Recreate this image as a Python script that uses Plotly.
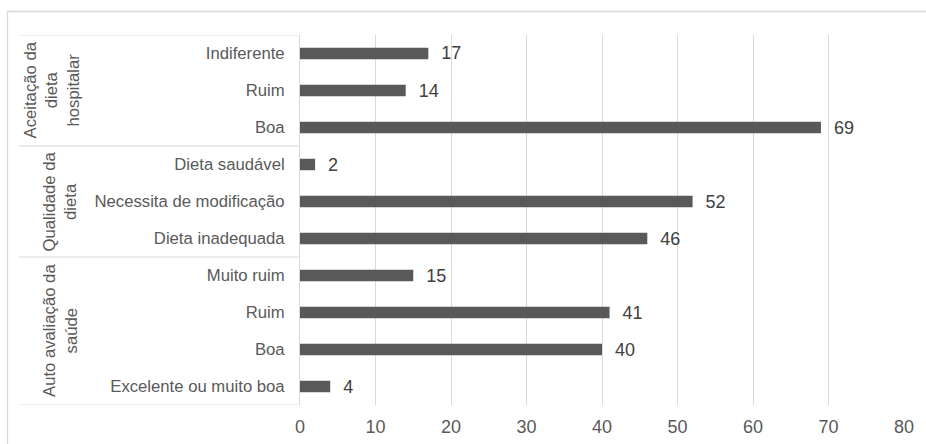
import plotly.graph_objects as go

# Data (bottom to top)
categories = ["Excelente ou muito boa", "Boa", "Ruim", "Muito ruim",
              "Dieta inadequada", "Necessita de modificação", "Dieta saudável",
              "Boa", "Ruim", "Indiferente"]
values = [4, 40, 41, 15, 46, 52, 2, 69, 14, 17]
groups = ["Auto avaliação da<br>saúde", "Qualidade da<br>dieta", "Aceitação da<br>dieta<br>hospitalar"]
group_sizes = [4, 3, 3]
x_ticks = [0, 10, 20, 30, 40, 50, 60, 70, 80]

positions = list(range(len(categories)))

FONT = "Liberation Sans, Arial, sans-serif"
GRID = "#d9d9d9"

fig = go.Figure()
fig.add_trace(go.Bar(
    x=values, y=positions, orientation="h",
    marker=dict(color="#595959", line=dict(width=0)),
    text=values, texttemplate="\u00a0\u00a0%{x}", textposition="outside",
    textfont=dict(family=FONT, size=18, color="#404040"),
    constraintext="none",
    cliponaxis=False, hoverinfo="skip",
))

W, H = 926, 444
L, R, T, B = 300, 22, 35, 39
pw = W - L - R
ph = H - T - B

def px2paper_x(px):
    return (px - L) / pw

def px2paper_y(py):
    return (H - B - py) / ph

shapes = []
annotations = []
start = -0.5
group_x_px = {2: 60, 3: 51}
for g, n in zip(groups, group_sizes):
    end = start + n
    shapes.append(dict(type="line", xref="paper", yref="y",
                       x0=px2paper_x(19), x1=0, y0=start, y1=start,
                       line=dict(color=GRID, width=1)))
    nlines = g.count("<br>") + 1
    annotations.append(dict(text=g, xref="paper", yref="y",
                            x=px2paper_x(group_x_px.get(nlines, 55)), y=(start + end) / 2,
                            textangle=-90, showarrow=False,
                            xanchor="center", yanchor="middle",
                            font=dict(family=FONT, size=16.7, color="#595959")))
    start = end
shapes.append(dict(type="line", xref="paper", yref="y",
                   x0=px2paper_x(19), x1=0, y0=start, y1=start,
                   line=dict(color=GRID, width=1)))
# chart border
shapes.append(dict(type="rect", xref="paper", yref="paper",
                   x0=px2paper_x(7.5), x1=px2paper_x(935),
                   y0=px2paper_y(455), y1=px2paper_y(11.5),
                   line=dict(color=GRID, width=1.3), fillcolor="rgba(0,0,0,0)"))

fig.update_layout(
    width=W, height=H,
    margin=dict(l=L, r=R, t=T, b=B, pad=0, autoexpand=False),
    paper_bgcolor="white", plot_bgcolor="white",
    showlegend=False, bargap=0.69,
    font=dict(family=FONT, color="#595959"),
    shapes=shapes, annotations=annotations,
    xaxis=dict(range=[0, 80], tickvals=x_ticks, showgrid=True, gridcolor=GRID,
               gridwidth=1, zeroline=False, showline=False, ticks="",
               tickfont=dict(family=FONT, size=18, color="#595959"),
               ticklabelstandoff=9, automargin=False),
    yaxis=dict(range=[-0.5, len(categories) - 0.5], tickvals=positions,
               ticktext=categories, showgrid=False, zeroline=False,
               showline=True, linecolor=GRID, linewidth=1, ticks="",
               tickfont=dict(family=FONT, size=16.7, color="#595959"),
               ticklabelstandoff=11, automargin=False),
)

fig.write_html("out.html")
